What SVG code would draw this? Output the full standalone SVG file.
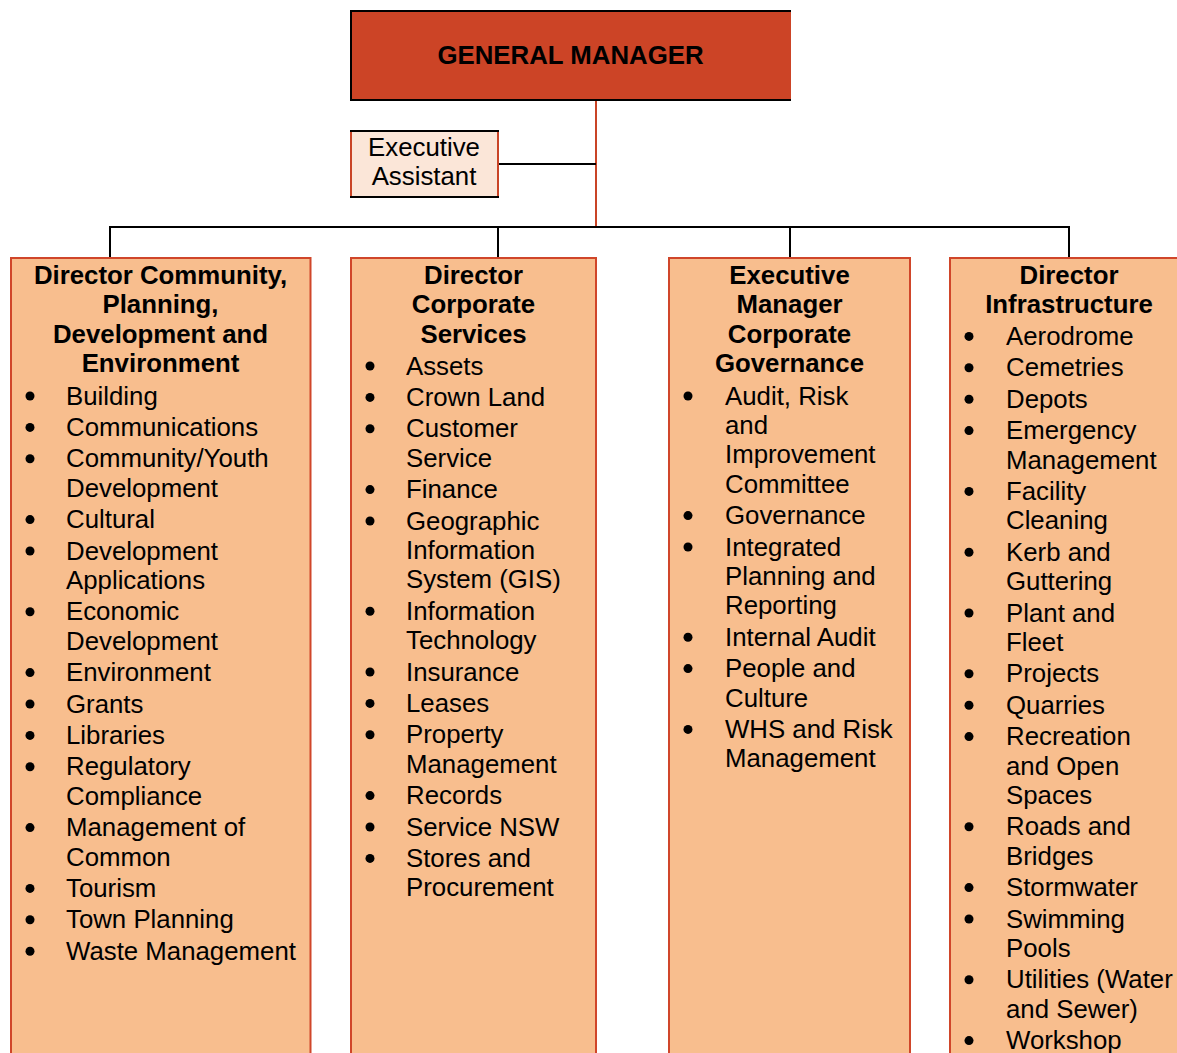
<svg xmlns="http://www.w3.org/2000/svg" width="1177" height="1053" viewBox="0 0 1177 1053">
  <style>
    text { font-family: "Liberation Sans", Arial, sans-serif; font-size: 25.8px; fill: #000; }
    .title { font-weight: bold; text-anchor: middle; }
    .mid { text-anchor: middle; }
    .dir { fill: #F8BE8E; stroke: #D0462A; stroke-width: 2; }
    .red { stroke: #C94426; stroke-width: 2; fill: none; }
    .blk { stroke: #000; stroke-width: 2; fill: none; }
    .dot { fill: #000; }
  </style>

  <!-- reporting lines -->
  <g id="connectors">
    <line class="red" x1="596" y1="100" x2="596" y2="227"/>
    <line class="blk" x1="498" y1="164" x2="596" y2="164"/>
    <polyline class="blk" points="110,258 110,227 1069,227 1069,258"/>
    <line class="blk" x1="498" y1="227" x2="498" y2="258"/>
    <line class="blk" x1="790" y1="227" x2="790" y2="258"/>
  </g>

  <g id="general-manager">
    <rect x="351" y="11" width="440" height="89" fill="#CC4426"/>
    <polyline class="blk" points="791,11 351,11 351,100 791,100"/>
    <text class="title" x="570.5" y="63.5">GENERAL MANAGER</text>
  </g>

  <g id="executive-assistant">
    <rect x="351" y="131" width="147" height="66" fill="#FBE6D8"/>
    <line class="red" x1="351" y1="131" x2="351" y2="197"/>
    <line class="red" x1="498" y1="131" x2="498" y2="197"/>
    <line class="blk" x1="350" y1="131" x2="499" y2="131"/>
    <line class="blk" x1="350" y1="197" x2="499" y2="197"/>
    <text class="mid" x="424" y="155.5">Executive</text>
    <text class="mid" x="424" y="184.5">Assistant</text>
  </g>

  <g id="director-community">
    <rect class="dir" x="11" y="258" width="299.5" height="805"/>
    <text class="title" x="160.5" y="283.5">Director Community,</text>
    <text class="title" x="160.5" y="313">Planning,</text>
    <text class="title" x="160.5" y="342.5">Development and</text>
    <text class="title" x="160.5" y="372">Environment</text>
    <g class="dot">
      <circle cx="30" cy="396" r="4.5"/><circle cx="30" cy="427.4" r="4.5"/><circle cx="30" cy="458.8" r="4.5"/>
      <circle cx="30" cy="519.6" r="4.5"/><circle cx="30" cy="551" r="4.5"/><circle cx="30" cy="611.8" r="4.5"/>
      <circle cx="30" cy="672.6" r="4.5"/><circle cx="30" cy="704" r="4.5"/><circle cx="30" cy="735.4" r="4.5"/>
      <circle cx="30" cy="766.8" r="4.5"/><circle cx="30" cy="827.6" r="4.5"/><circle cx="30" cy="888.4" r="4.5"/>
      <circle cx="30" cy="919.8" r="4.5"/><circle cx="30" cy="951.2" r="4.5"/>
    </g>
    <text x="66" y="404.5">Building</text>
    <text x="66" y="435.9">Communications</text>
    <text x="66" y="467.3">Community/Youth</text>
    <text x="66" y="496.7">Development</text>
    <text x="66" y="528.1">Cultural</text>
    <text x="66" y="559.5">Development</text>
    <text x="66" y="588.9">Applications</text>
    <text x="66" y="620.3">Economic</text>
    <text x="66" y="649.7">Development</text>
    <text x="66" y="681.1">Environment</text>
    <text x="66" y="712.5">Grants</text>
    <text x="66" y="743.9">Libraries</text>
    <text x="66" y="775.3">Regulatory</text>
    <text x="66" y="804.7">Compliance</text>
    <text x="66" y="836.1">Management of</text>
    <text x="66" y="865.5">Common</text>
    <text x="66" y="896.9">Tourism</text>
    <text x="66" y="928.3">Town Planning</text>
    <text x="66" y="959.7">Waste Management</text>
  </g>

  <g id="director-corporate">
    <rect class="dir" x="351" y="258" width="245" height="805"/>
    <text class="title" x="473.5" y="283.5">Director</text>
    <text class="title" x="473.5" y="313">Corporate</text>
    <text class="title" x="473.5" y="342.5">Services</text>
    <g class="dot">
      <circle cx="370" cy="366" r="4.5"/><circle cx="370" cy="397.4" r="4.5"/><circle cx="370" cy="428.8" r="4.5"/>
      <circle cx="370" cy="489.6" r="4.5"/><circle cx="370" cy="521" r="4.5"/><circle cx="370" cy="611.2" r="4.5"/>
      <circle cx="370" cy="672" r="4.5"/><circle cx="370" cy="703.4" r="4.5"/><circle cx="370" cy="734.8" r="4.5"/>
      <circle cx="370" cy="795.6" r="4.5"/><circle cx="370" cy="827" r="4.5"/><circle cx="370" cy="858.4" r="4.5"/>
    </g>
    <text x="406" y="374.5">Assets</text>
    <text x="406" y="405.9">Crown Land</text>
    <text x="406" y="437.3">Customer</text>
    <text x="406" y="466.7">Service</text>
    <text x="406" y="498.1">Finance</text>
    <text x="406" y="529.5">Geographic</text>
    <text x="406" y="558.9">Information</text>
    <text x="406" y="588.3">System (GIS)</text>
    <text x="406" y="619.7">Information</text>
    <text x="406" y="649.1">Technology</text>
    <text x="406" y="680.5">Insurance</text>
    <text x="406" y="711.9">Leases</text>
    <text x="406" y="743.3">Property</text>
    <text x="406" y="772.7">Management</text>
    <text x="406" y="804.1">Records</text>
    <text x="406" y="835.5">Service NSW</text>
    <text x="406" y="866.9">Stores and</text>
    <text x="406" y="896.3">Procurement</text>
  </g>

  <g id="executive-manager-governance">
    <rect class="dir" x="669" y="258" width="241" height="805"/>
    <text class="title" x="789.5" y="283.5">Executive</text>
    <text class="title" x="789.5" y="313">Manager</text>
    <text class="title" x="789.5" y="342.5">Corporate</text>
    <text class="title" x="789.5" y="372">Governance</text>
    <g class="dot">
      <circle cx="688" cy="396" r="4.5"/><circle cx="688" cy="515.6" r="4.5"/><circle cx="688" cy="547" r="4.5"/>
      <circle cx="688" cy="637.2" r="4.5"/><circle cx="688" cy="668.6" r="4.5"/><circle cx="688" cy="729.4" r="4.5"/>
    </g>
    <text x="725" y="404.5">Audit, Risk</text>
    <text x="725" y="433.9">and</text>
    <text x="725" y="463.3">Improvement</text>
    <text x="725" y="492.7">Committee</text>
    <text x="725" y="524.1">Governance</text>
    <text x="725" y="555.5">Integrated</text>
    <text x="725" y="584.9">Planning and</text>
    <text x="725" y="614.3">Reporting</text>
    <text x="725" y="645.7">Internal Audit</text>
    <text x="725" y="677.1">People and</text>
    <text x="725" y="706.5">Culture</text>
    <text x="725" y="737.9">WHS and Risk</text>
    <text x="725" y="767.3">Management</text>
  </g>

  <g id="director-infrastructure">
    <rect class="dir" x="950" y="258" width="240" height="805"/>
    <text class="title" x="1069" y="283.5">Director</text>
    <text class="title" x="1069" y="313">Infrastructure</text>
    <g class="dot">
      <circle cx="969" cy="336.4" r="4.5"/><circle cx="969" cy="367.8" r="4.5"/><circle cx="969" cy="399.2" r="4.5"/>
      <circle cx="969" cy="430.6" r="4.5"/><circle cx="969" cy="491.4" r="4.5"/><circle cx="969" cy="552.2" r="4.5"/>
      <circle cx="969" cy="613" r="4.5"/><circle cx="969" cy="673.8" r="4.5"/><circle cx="969" cy="705.2" r="4.5"/>
      <circle cx="969" cy="736.6" r="4.5"/><circle cx="969" cy="826.8" r="4.5"/><circle cx="969" cy="887.6" r="4.5"/>
      <circle cx="969" cy="919" r="4.5"/><circle cx="969" cy="979.8" r="4.5"/><circle cx="969" cy="1040.6" r="4.5"/>
    </g>
    <text x="1006" y="344.9">Aerodrome</text>
    <text x="1006" y="376.3">Cemetries</text>
    <text x="1006" y="407.7">Depots</text>
    <text x="1006" y="439.1">Emergency</text>
    <text x="1006" y="468.5">Management</text>
    <text x="1006" y="499.9">Facility</text>
    <text x="1006" y="529.3">Cleaning</text>
    <text x="1006" y="560.7">Kerb and</text>
    <text x="1006" y="590.1">Guttering</text>
    <text x="1006" y="621.5">Plant and</text>
    <text x="1006" y="650.9">Fleet</text>
    <text x="1006" y="682.3">Projects</text>
    <text x="1006" y="713.7">Quarries</text>
    <text x="1006" y="745.1">Recreation</text>
    <text x="1006" y="774.5">and Open</text>
    <text x="1006" y="803.9">Spaces</text>
    <text x="1006" y="835.3">Roads and</text>
    <text x="1006" y="864.7">Bridges</text>
    <text x="1006" y="896.1">Stormwater</text>
    <text x="1006" y="927.5">Swimming</text>
    <text x="1006" y="956.9">Pools</text>
    <text x="1006" y="988.3">Utilities (Water</text>
    <text x="1006" y="1017.7">and Sewer)</text>
    <text x="1006" y="1049.1">Workshop</text>
  </g>
</svg>
